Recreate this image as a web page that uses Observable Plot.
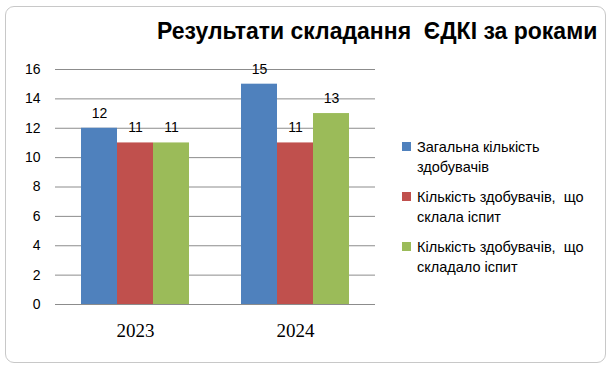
<!DOCTYPE html>
<html>
<head>
<meta charset="utf-8">
<script src="https://cdn.jsdelivr.net/npm/d3@7"></script>
<script src="https://cdn.jsdelivr.net/npm/@observablehq/plot@0.6"></script>
<style>
  html, body { margin: 0; padding: 0; background: #ffffff; }
  #wrap { position: relative; width: 611px; height: 366px; overflow: hidden; background: #fff; font-family: "Liberation Sans", Arial, sans-serif; }
  #frame { position: absolute; left: 5px; top: 6px; width: 599px; height: 355px; border: 1px solid #c8c8c8; border-radius: 9px; background: #fff; }
  #title { position: absolute; left: 157px; top: 18px; font-size: 23px; font-weight: bold; color: #000; white-space: pre; }
  #chart { position: absolute; left: 0; top: 0; }
  #legend { position: absolute; left: 402px; top: 137px; font-size: 14.5px; color: #000; }
  .item { position: relative; padding-left: 15px; line-height: 20px; margin-bottom: 10px; }
  .sw { position: absolute; left: 0; top: 5px; width: 9px; height: 9px; }
</style>
</head>
<body>
<div id="wrap">
  <div id="frame"></div>
  <div id="chart"></div>
  <div id="title"></div>
  <div id="legend"></div>
</div>
<script>
const years = ["2023", "2024"];
const series = [
  "Загальна кількість здобувачів",
  "Кількість здобувачів,  що склала іспит",
  "Кількість здобувачів,  що складало іспит"
];
const legendLines = [
  ["Загальна кількість", "здобувачів"],
  ["Кількість здобувачів,  що", "склала іспит"],
  ["Кількість здобувачів,  що", "складало іспит"]
];
const totalValues = [12, 15];
const passedValues = [11, 11];
const takingValues = [11, 13];
const colors = ["#4F81BD", "#C0504D", "#9BBB59"];
const yTicks = [0, 2, 4, 6, 8, 10, 12, 14, 16];
const titleText = "Результати складання  ЄДКІ за роками";

const valuesBySeries = [totalValues, passedValues, takingValues];
const data = [];
years.forEach((yr, i) => {
  series.forEach((s, j) => data.push({ year: yr, series: s, value: valuesBySeries[j][i] }));
});

const chart = Plot.plot({
  width: 400,
  height: 366,
  marginLeft: 55,
  marginRight: 25,
  marginTop: 69,
  marginBottom: 62,
  style: { background: "transparent", fontFamily: "Liberation Sans, Arial, sans-serif" },
  fx: { domain: years, padding: 0, label: null },
  x: { domain: series, paddingInner: 0, paddingOuter: 0.722, axis: null },
  y: { domain: [0, 16], ticks: yTicks, label: null },
  color: { domain: series, range: colors },
  marks: [
    Plot.ruleY(yTicks.filter(d => d > 0), { stroke: "#8c8c8c", strokeWidth: 1 }),
    Plot.barY(data, { fx: "year", x: "series", y: "value", fill: "series" }),
    Plot.ruleY([0], { stroke: "#8c8c8c", strokeWidth: 1.2 }),
    Plot.text(data, { fx: "year", x: "series", y: "value", text: d => String(d.value), dy: -15, fontSize: 14, fill: "#000" }),
    Plot.axisY({ ticks: yTicks, tickSize: 0, tickPadding: 15, fontSize: 14, fill: "#000", stroke: "#8c8c8c", line: true, label: null }),
    Plot.axisFx({ anchor: "bottom", tickSize: 0, tickPadding: 19, fontSize: 19, fontFamily: "Liberation Serif, Times New Roman, serif", fill: "#000", label: null })
  ]
});
document.getElementById("chart").appendChild(chart);
document.getElementById("title").textContent = titleText;

const legend = document.getElementById("legend");
series.forEach((s, j) => {
  const item = document.createElement("div");
  item.className = "item";
  const sw = document.createElement("div");
  sw.className = "sw";
  sw.style.background = colors[j];
  item.appendChild(sw);
  legendLines[j].forEach(line => {
    const l = document.createElement("div");
    l.textContent = line;
    l.style.whiteSpace = "pre";
    item.appendChild(l);
  });
  legend.appendChild(item);
});
</script>
</body>
</html>
